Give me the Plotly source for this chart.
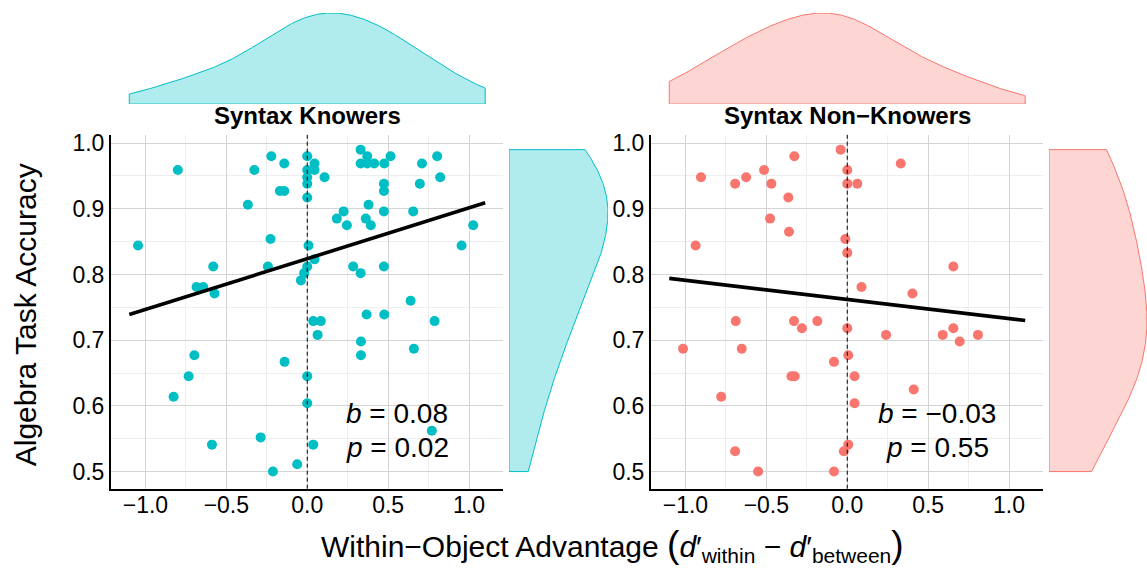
import numpy as np
import plotly.graph_objects as go

W, H = 1147, 569

# ---------------- data ----------------
knowers_x = [-0.80, -1.046, -0.222, -0.142, -0.327, -0.169, -0.142, -0.367, 0.0, 0.0,
             0.045, 0.045, 0.0, 0.0, 0.0, 0.107, 0.33, 0.33, 0.371, 0.414,
             0.371, 0.476, 0.515, 0.709, 0.803, 0.822, 0.696, 0.474, 0.474, 0.379,
             0.225, 0.183, 0.245, 0.362, 0.393, 0.474, 0.655, 1.026, 0.954, -0.227,
             0.008, 0.045, -0.243, 0.0, -0.019, -0.039, -0.581, -0.684, -0.643, -0.573,
             0.284, 0.33, 0.474, 0.639, 0.367, 0.476, 0.787, 0.037, 0.084, 0.064,
             0.332, 0.332, 0.659, -0.698, -0.733, -0.826, -0.140, 0.0, 0.0, 0.770,
             -0.589, -0.288, 0.037, -0.212, -0.062]
knowers_y = [0.959, 0.844, 0.980, 0.969, 0.959, 0.927, 0.927, 0.906, 0.980, 0.959,
             0.969, 0.959, 0.948, 0.938, 0.917, 0.948, 0.990, 0.969, 0.969, 0.969,
             0.980, 0.969, 0.980, 0.969, 0.980, 0.948, 0.938, 0.938, 0.927, 0.906,
             0.896, 0.885, 0.875, 0.885, 0.875, 0.896, 0.896, 0.875, 0.844, 0.854,
             0.844, 0.823, 0.812, 0.812, 0.802, 0.791, 0.812, 0.781, 0.781, 0.771,
             0.812, 0.802, 0.812, 0.760, 0.739, 0.739, 0.729, 0.729, 0.729, 0.708,
             0.698, 0.677, 0.687, 0.677, 0.645, 0.614, 0.667, 0.645, 0.604, 0.562,
             0.541, 0.552, 0.541, 0.500, 0.511]

nonknowers_x = [-0.041, -0.327, 0.331, 0.0, -0.514, -0.904, -0.625, -0.693, -0.469, 0.0,
                0.062, -0.364, -0.477, -0.360, -0.012, 0.0, -0.937, 0.656, 0.088, 0.403,
                -0.689, -0.329, -0.280, -0.185, 0.0, 0.240, 0.590, 0.656, 0.695, 0.808,
                -1.015, -0.652, -0.082, 0.006, -0.345, -0.325, 0.045, -0.779, 0.045, 0.411,
                -0.693, 0.006, -0.021, -0.551, -0.082]
nonknowers_y = [0.990, 0.980, 0.969, 0.959, 0.959, 0.948, 0.948, 0.938, 0.938, 0.938,
                0.938, 0.917, 0.885, 0.865, 0.854, 0.833, 0.844, 0.812, 0.781, 0.771,
                0.729, 0.729, 0.718, 0.729, 0.718, 0.708, 0.708, 0.718, 0.698, 0.708,
                0.687, 0.687, 0.667, 0.677, 0.645, 0.645, 0.645, 0.614, 0.604, 0.625,
                0.531, 0.541, 0.531, 0.500, 0.500]

# fitted regression lines as drawn in the reference (slope, intercept per panel)
fit_slope = [0.0773, -0.0291]
fit_intercept = [0.824, 0.762]

panel_titles = ["Syntax Knowers", "Syntax Non\u2212Knowers"]
stat_b = ["0.08", "\u22120.03"]
stat_p = ["0.02", "0.55"]
x_tick_vals = [-1.0, -0.5, 0.0, 0.5, 1.0]
y_tick_vals = [0.5, 0.6, 0.7, 0.8, 0.9, 1.0]
x_limits = [-1.1, 1.1]

colors = ["#00BFC4", "#F8766D"]
fills = ["rgba(0,191,196,0.31)", "rgba(248,118,109,0.31)"]

FONT = "Liberation Sans, Arial, Helvetica, sans-serif"
BW_ADJUST = 1.9


def px_x(p):
    return p / W


def px_y(p):
    return 1 - p / H


def kde(data, grid, adjust=BW_ADJUST):
    d = np.asarray(data, dtype=float)
    n = len(d)
    sd = d.std(ddof=1)
    q75, q25 = np.percentile(d, [75, 25])
    bw = adjust * 0.9 * min(sd, (q75 - q25) / 1.34) * n ** -0.2
    z = (grid[:, None] - d[None, :]) / bw
    return np.exp(-0.5 * z ** 2).sum(axis=1) / (n * bw * np.sqrt(2 * np.pi))


fig = go.Figure()

xr = [-1.213, 1.21]
yr = [0.4739, 1.0125]
main_x_dom = [[px_x(111), px_x(503)], [px_x(651), px_x(1043)]]
main_y_dom = [px_y(488), px_y(131)]
top_y_dom = [px_y(100), px_y(8)]
right_x_dom = [[px_x(509), px_x(608)], [px_x(1049), 1.0]]

datasets = [(knowers_x, knowers_y), (nonknowers_x, nonknowers_y)]

layout_axes = {}
for i, (xs, ys) in enumerate(datasets):
    k = i + 1
    xa, ya = ("x" if k == 1 else f"x{k}"), ("y" if k == 1 else f"y{k}")
    # scatter
    fig.add_trace(go.Scatter(x=xs, y=ys, mode="markers", xaxis=xa, yaxis=ya,
                             marker=dict(color=colors[i], size=10, line=dict(width=0)),
                             showlegend=False, hoverinfo="skip"))
    # regression line
    lx = np.array(x_limits)
    fig.add_trace(go.Scatter(x=lx, y=fit_intercept[i] + fit_slope[i] * lx, mode="lines",
                             xaxis=xa, yaxis=ya, line=dict(color="black", width=3.6),
                             showlegend=False, hoverinfo="skip"))
    # top marginal density
    tk = 2 * i + 3
    gx = np.linspace(x_limits[0], x_limits[1], 512)
    dx = kde(xs, gx)
    dx = dx / dx.max()
    fig.add_trace(go.Scatter(
        x=np.concatenate([gx, [gx[-1], gx[0], gx[0]]]),
        y=np.concatenate([dx, [0, 0, dx[0]]]),
        mode="lines", fill="toself", fillcolor=fills[i],
        line=dict(color=colors[i], width=1), xaxis=f"x{tk}", yaxis=f"y{tk}",
        showlegend=False, hoverinfo="skip"))
    # right marginal density
    rk = 2 * i + 4
    gy = np.linspace(min(ys), max(ys), 512)
    dy = kde(ys, gy)
    dy = dy / dy.max()
    fig.add_trace(go.Scatter(
        x=np.concatenate([dy, [0, 0, dy[0]]]),
        y=np.concatenate([gy, [gy[-1], gy[0], gy[0]]]),
        mode="lines", fill="toself", fillcolor=fills[i],
        line=dict(color=colors[i], width=1), xaxis=f"x{rk}", yaxis=f"y{rk}",
        showlegend=False, hoverinfo="skip"))

    common = dict(showline=True, linecolor="black", linewidth=2, ticks="",
                  zeroline=False, showgrid=True, gridcolor="#d4d4d4", gridwidth=1,
                  tickfont=dict(family=FONT, size=23, color="black"),
                  tickformat=".1f")
    layout_axes["xaxis" if k == 1 else f"xaxis{k}"] = dict(
        domain=main_x_dom[i], range=xr, anchor=ya, tickvals=x_tick_vals,
        minor=dict(dtick=0.25, tick0=0, showgrid=True, gridcolor="#eeeeee", gridwidth=1),
        ticklabelstandoff=-5, **common)
    layout_axes["yaxis" if k == 1 else f"yaxis{k}"] = dict(
        domain=main_y_dom, range=yr, anchor=xa, tickvals=y_tick_vals,
        minor=dict(dtick=0.05, tick0=0.5, showgrid=True, gridcolor="#eeeeee", gridwidth=1),
        ticklabelstandoff=0, **common)
    hidden = dict(visible=False, showgrid=False, zeroline=False, fixedrange=True)
    layout_axes[f"xaxis{tk}"] = dict(domain=main_x_dom[i], range=xr, anchor=f"y{tk}", **hidden)
    layout_axes[f"yaxis{tk}"] = dict(domain=top_y_dom, range=[0, 1.0], anchor=f"x{tk}", **hidden)
    layout_axes[f"xaxis{rk}"] = dict(domain=right_x_dom[i], range=[0, 1.0], anchor=f"y{rk}", **hidden)
    layout_axes[f"yaxis{rk}"] = dict(domain=main_y_dom, range=yr, anchor=f"x{rk}", **hidden)

fig.update_layout(**layout_axes)

shapes = []
annotations = []
for i in range(2):
    k = i + 1
    xa = "x" if k == 1 else f"x{k}"
    ya = "y" if k == 1 else f"y{k}"
    shapes.append(dict(type="line", xref=xa, yref=f"{ya} domain", x0=0, x1=0, y0=0, y1=1,
                       line=dict(color="black", width=1, dash="4px,3px"), layer="above"))
    annotations.append(dict(text=f"<b>{panel_titles[i]}</b>", xref="paper", yref="paper",
                            x=(main_x_dom[i][0] + main_x_dom[i][1]) / 2, y=px_y(111),
                            xanchor="center", yanchor="middle", showarrow=False,
                            font=dict(family=FONT, size=24, color="black")))
    annotations.append(dict(text=f"<i>b</i> = {stat_b[i]}", xref=xa, yref=ya,
                            x=0.555, y=0.589, xanchor="center", yanchor="middle",
                            showarrow=False, font=dict(family=FONT, size=28, color="black")))
    annotations.append(dict(text=f"<i>p</i> = {stat_p[i]}", xref=xa, yref=ya,
                            x=0.555, y=0.536, xanchor="center", yanchor="middle",
                            showarrow=False, font=dict(family=FONT, size=28, color="black")))

annotations.append(dict(
    text="Within\u2212Object Advantage <span style='font-size:37px'>(</span><i>d</i>\u2032<sub>within</sub> \u2212 <i>d</i>\u2032<sub>between</sub><span style='font-size:37px'>)</span>",
    xref="paper", yref="paper", x=px_x(612), y=px_y(545), xanchor="center", yanchor="middle",
    showarrow=False, font=dict(family=FONT, size=30, color="black")))
annotations.append(dict(
    text="Algebra Task Accuracy", xref="paper", yref="paper", x=px_x(25), y=px_y(313),
    xanchor="center", yanchor="middle", textangle=-90, showarrow=False,
    font=dict(family=FONT, size=30, color="black")))

fig.update_layout(width=W, height=H, margin=dict(l=0, r=0, t=0, b=0),
                  paper_bgcolor="white", plot_bgcolor="white",
                  shapes=shapes, annotations=annotations, showlegend=False)

fig.write_html("out.html", config={"displayModeBar": False},
               post_script="document.body.style.margin='0px';")
